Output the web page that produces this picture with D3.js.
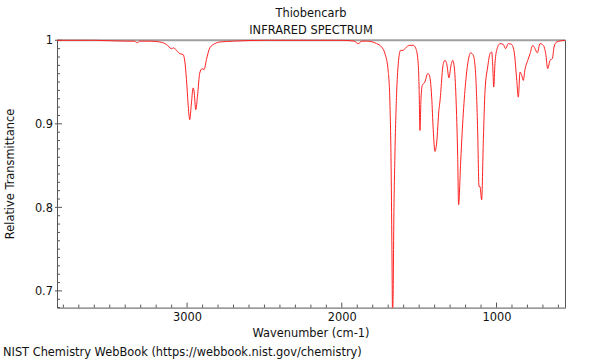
<!DOCTYPE html>
<html>
<head>
<meta charset="utf-8">
<script src="https://cdn.jsdelivr.net/npm/d3@7"></script>
<style>
  html, body { margin: 0; padding: 0; background: #fff; }
  svg { display: block; font-family: "DejaVu Sans", sans-serif; }
</style>
</head>
<body>
<svg id="chart" width="600" height="360"></svg>
<script>
const title = "Thiobencarb";
const subtitle = "INFRARED SPECTRUM";
const xLabel = "Wavenumber (cm-1)";
const yLabel = "Relative Transmittance";
const credit = "NIST Chemistry WebBook (https://webbook.nist.gov/chemistry)";

const xDomain = [3841, 554];
const yDomain = [0.68, 1.0];
const xMajorTicks = [3000, 2000, 1000];
const xTickLabels = ["3000", "2000", "1000"];
const yMajorTicks = [0.7, 0.8, 0.9, 1.0];
const yTickLabels = ["0.7", "0.8", "0.9", "1"];

const wavenumbers = [
  3841, 3600, 3400, 3340, 3323, 3305, 3241, 3176, 3133, 3101, 3086, 3069, 3047, 3026, 3015,
  3004, 2994, 2983, 2972, 2961, 2955, 2944, 2933, 2918, 2903, 2890, 2875, 2853, 2821, 2788,
  2700, 2500, 2000, 1920, 1894, 1870, 1840, 1800, 1775, 1743, 1721, 1700, 1689, 1682, 1676,
  1672, 1668, 1664, 1657, 1646, 1635, 1620, 1603, 1592, 1575, 1560, 1538, 1521, 1506, 1500,
  1495, 1488, 1480, 1463, 1445, 1435, 1419, 1409, 1398, 1387, 1372, 1366, 1344, 1333, 1322,
  1307, 1296, 1283, 1273, 1262, 1251, 1245, 1232, 1221, 1204, 1186, 1167, 1150, 1135, 1122,
  1113, 1107, 1096, 1085, 1074, 1057, 1042, 1031, 1025, 1018, 1010, 999, 977, 956, 941,
  924, 902, 885, 869, 859, 848, 837, 827, 816, 798, 783, 766, 751, 736, 719,
  697, 682, 669, 654, 639, 628, 611, 557
];
const transmittance = [
  1.000, 1.000, 0.999, 0.999, 0.997, 0.999, 0.999, 0.998, 0.995, 0.990, 0.991, 0.988, 0.984, 0.983, 0.975,
  0.953, 0.925, 0.905, 0.925, 0.943, 0.939, 0.917, 0.933, 0.961, 0.966, 0.965, 0.977, 0.991, 0.996, 0.998,
  0.999, 1.000, 1.000, 0.999, 0.996, 0.999, 0.999, 0.998, 0.996, 0.992, 0.984, 0.963, 0.925, 0.860, 0.750,
  0.672, 0.700, 0.780, 0.860, 0.935, 0.972, 0.988, 0.988, 0.990, 0.993, 0.994, 0.994, 0.990, 0.972, 0.940,
  0.892, 0.930, 0.946, 0.950, 0.960, 0.959, 0.932, 0.893, 0.867, 0.877, 0.917, 0.926, 0.972, 0.976, 0.972,
  0.955, 0.968, 0.976, 0.968, 0.932, 0.861, 0.803, 0.853, 0.893, 0.940, 0.972, 0.985, 0.982, 0.960, 0.893,
  0.825, 0.825, 0.809, 0.881, 0.940, 0.968, 0.984, 0.986, 0.972, 0.944, 0.972, 0.988, 0.996, 0.995, 0.990,
  0.996, 0.995, 0.985, 0.952, 0.932, 0.962, 0.958, 0.952, 0.965, 0.976, 0.984, 0.994, 0.990, 0.985, 0.996,
  0.994, 0.984, 0.966, 0.976, 0.978, 0.992, 0.998, 1.000
];

const svg = d3.select("#chart");
const pLeft = 57, pRight = 565.5, pTop = 40.3, pBottom = 307.6;
const fs = 11.4;

const x = d3.scaleLinear().domain(xDomain).range([pLeft, pRight]);
const y = d3.scaleLinear().domain(yDomain).range([pBottom, pTop]);

svg.append("defs").append("clipPath").attr("id", "plotclip")
  .append("rect").attr("x", pLeft).attr("y", pTop - 1).attr("width", pRight - pLeft).attr("height", pBottom - pTop + 1);

svg.append("line").attr("x1", pLeft).attr("x2", pRight).attr("y1", pTop).attr("y2", pTop)
  .attr("stroke", "#a0a0a0").attr("stroke-width", 2);
svg.append("line").attr("x1", pRight).attr("x2", pRight).attr("y1", pTop).attr("y2", pBottom)
  .attr("stroke", "#555").attr("stroke-width", 1);

const xMinor = d3.range(600, 3900, 100).filter(v => v >= xDomain[1] && v <= xDomain[0] && !xMajorTicks.includes(v));
const yMinor = d3.range(68, 101, 1).map(v => v / 100).filter(v => !yMajorTicks.some(m => Math.abs(m - v) < 1e-6));

const xAxisMajor = d3.axisBottom(x).tickValues(xMajorTicks).tickSize(0).tickPadding(5.5)
  .tickFormat((d, i) => xTickLabels[i]);
const gx = svg.append("g").attr("transform", `translate(0,${pBottom})`).call(xAxisMajor);
gx.select(".domain").attr("stroke", "#555");
gx.selectAll("text").attr("font-size", fs).attr("font-family", "DejaVu Sans").attr("fill", "#111");
svg.append("g").selectAll("line").data(xMajorTicks).join("line")
  .attr("x1", d => x(d)).attr("x2", d => x(d)).attr("y1", pBottom).attr("y2", pBottom - 5)
  .attr("stroke", "#555");
svg.append("g").selectAll("line").data(xMinor).join("line")
  .attr("x1", d => x(d)).attr("x2", d => x(d)).attr("y1", pBottom).attr("y2", pBottom - 3)
  .attr("stroke", "#555");

const yAxisMajor = d3.axisLeft(y).tickValues(yMajorTicks).tickSize(0).tickPadding(4)
  .tickFormat((d, i) => yTickLabels[i]);
const gy = svg.append("g").attr("transform", `translate(${pLeft},0)`).call(yAxisMajor);
gy.select(".domain").attr("stroke", "#555");
gy.selectAll("text").attr("font-size", fs).attr("font-family", "DejaVu Sans").attr("fill", "#111");
svg.append("g").selectAll("line").data(yMajorTicks).join("line")
  .attr("x1", pLeft - 2).attr("x2", pLeft + 5).attr("y1", d => y(d)).attr("y2", d => y(d))
  .attr("stroke", "#555");
svg.append("g").selectAll("line").data(yMinor).join("line")
  .attr("x1", pLeft).attr("x2", pLeft + 3).attr("y1", d => y(d)).attr("y2", d => y(d))
  .attr("stroke", "#555");

const pts = wavenumbers.map((w, i) => [w, transmittance[i]]);
const line = d3.line().x(d => x(d[0])).y(d => y(d[1])).curve(d3.curveMonotoneX);
svg.append("path").datum(pts).attr("d", line)
  .attr("fill", "none").attr("stroke", "#ff2020").attr("stroke-width", 1)
  .attr("clip-path", "url(#plotclip)");

svg.append("text").attr("x", 311).attr("y", 17).attr("text-anchor", "middle")
  .attr("font-size", fs).attr("fill", "#111").text(title);
svg.append("text").attr("x", 311).attr("y", 34).attr("text-anchor", "middle")
  .attr("font-size", fs).attr("fill", "#111").text(subtitle);
svg.append("text").attr("x", 311).attr("y", 337).attr("text-anchor", "middle")
  .attr("font-size", fs).attr("fill", "#111").text(xLabel);
svg.append("text").attr("transform", `translate(14,174) rotate(-90)`).attr("text-anchor", "middle")
  .attr("font-size", fs).attr("fill", "#111").text(yLabel);
svg.append("text").attr("x", 3).attr("y", 356)
  .attr("font-size", fs).attr("fill", "#111").text(credit);
</script>
</body>
</html>
